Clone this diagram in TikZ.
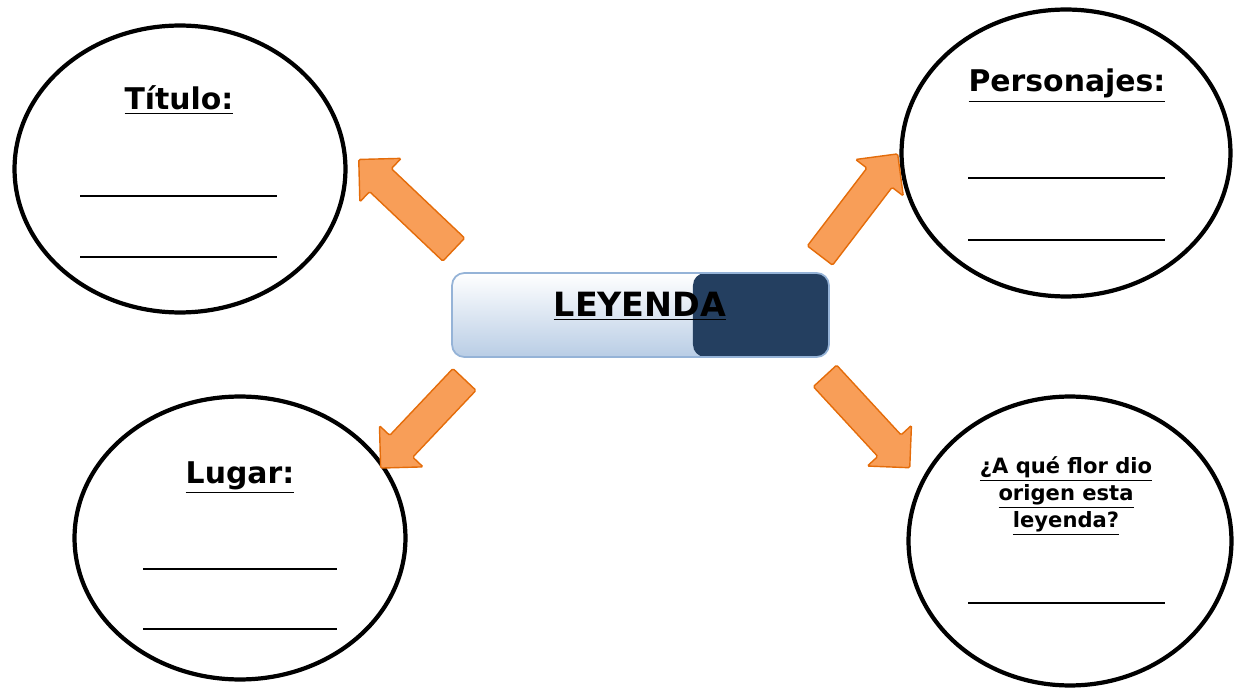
\documentclass[tikz,border=0pt]{standalone}
\usepackage{fontspec}
\setmainfont{DejaVu Sans}
\usetikzlibrary{shapes.geometric,shapes.arrows,calc}

\definecolor{arrowfill}{RGB}{248,158,88}
\definecolor{arrowdraw}{RGB}{228,108,10}
\definecolor{boxbottom}{RGB}{185,205,229}
\definecolor{boxdraw}{RGB}{149,179,215}
\definecolor{boxdark}{RGB}{36,63,96}

\tikzset{
  bubble/.style={ellipse, draw=black, line width=2.4pt, inner sep=0},
  blank/.style={line width=1.4pt},
  heading/.style={font=\fontsize{17}{20}\selectfont\bfseries, anchor=base, inner sep=0},
  fatarrow/.style={single arrow, fill=arrowfill, draw=arrowdraw, line width=0.8pt, inner sep=0, inner ysep=0.3cm,
    single arrow head extend=0.28cm, minimum width=1.2cm, rounded corners=0.8pt},
  keybox/.style={rectangle, rounded corners=7pt, minimum width=7.54cm, minimum height=1.68cm,
    top color=white, bottom color=boxbottom, draw=boxdraw, line width=1pt,
    path picture={\fill[boxdark] ([xshift=-2.72cm]path picture bounding box.north east) rectangle (path picture bounding box.south east);}},
}

\begin{document}
\begin{tikzpicture}[x=0.02cm, y=-0.02cm]
        \useasboundingbox (0,0) rectangle (1235,689);

        \begin{scope}[every node/.style={bubble}]
                \node [minimum width=6.62cm, minimum height=5.74cm] (tit) at (180,169) {};
                \node [minimum width=6.58cm, minimum height=5.74cm] (per) at (1066,153) {};
                \node [minimum width=6.62cm, minimum height=5.66cm] (lug) at (240,538) {};
                \node [minimum width=6.46cm, minimum height=5.78cm] (pre) at (1070,541) {};
        \end{scope}

        \node [heading] (titT) at (179,110) {\underline{Título:}};
        \node [heading] (perT) at (1067,92) {\underline{Personajes:}};
        \node [heading] (lugT) at (240,483) {\underline{Lugar:}};
        \node [font=\fontsize{12}{15.4}\selectfont\bfseries, align=center, inner sep=0] (preT) at (1066,496)
                {\underline{¿A qué flor dio}\\ \underline{origen esta}\\ \underline{leyenda?}};

        \draw[blank] ($(tit)+(-100,27)$) -- ++(197,0);
        \draw[blank] ($(tit)+(-100,88)$) -- ++(197,0);
        \draw[blank] ($(per)+(-98,25)$) -- ++(197,0);
        \draw[blank] ($(per)+(-98,87)$) -- ++(197,0);
        \draw[blank] ($(lug)+(-97,31)$) -- ++(194,0);
        \draw[blank] ($(lug)+(-97,91)$) -- ++(194,0);
        \draw[blank] ($(pre)+(-102,62)$) -- ++(197,0);

        \node [keybox] (ley) at (640.5,315) {};
        \node [heading, font=\fontsize{19}{22}\selectfont\bfseries] (leyT) at (640,317) {\underline{LEYENDA}};

        \begin{scope}[every node/.style={fatarrow}]
                \node [minimum height=2.62cm, rotate=136.5] (aTit) at (412,210) {};
                \node [minimum height=2.56cm, rotate=52.6] (aPer) at (854,211) {};
                \node [minimum height=2.44cm, rotate=226.6] (aLug) at (428,418) {};
                \node [minimum height=2.5cm, rotate=-47.3] (aPre) at (862,416) {};
        \end{scope}
\end{tikzpicture}
\end{document}
